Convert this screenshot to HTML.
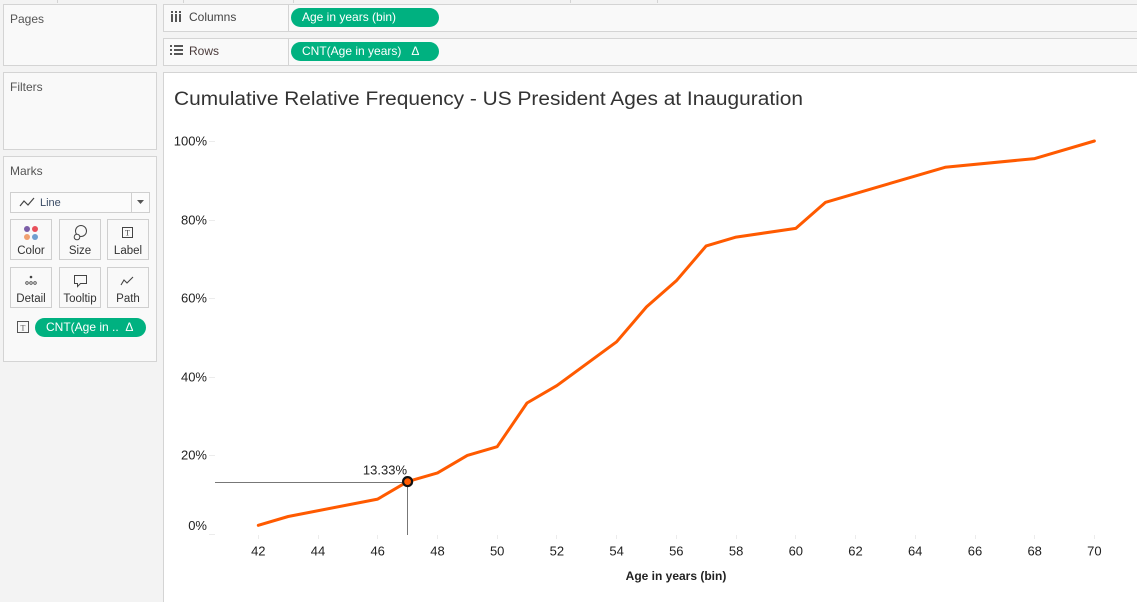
<!DOCTYPE html>
<html><head><meta charset="utf-8"><style>
html,body{margin:0;padding:0;}
body{width:1137px;height:597px;background:#f3f3f3;position:relative;overflow:hidden;font-family:"Liberation Sans",sans-serif;}
.box{position:absolute;background:#f9f9f9;border:1px solid #d4d4d4;box-sizing:border-box;}
.lbl{position:absolute;font-size:12px;color:#555;}
.pill{position:absolute;background:#00b180;color:#fff;border-radius:10px;font-size:12px;box-sizing:border-box;padding-left:11px;line-height:19px;height:19px;}
.btn{position:absolute;background:#f9f9f9;border:1px solid #cfcfcf;box-sizing:border-box;width:42px;height:41px;font-size:11.5px;color:#333;text-align:center;}
.btn span{position:absolute;left:0;right:0;top:25px;}
.tick{position:absolute;top:0;width:1px;height:3px;background:#d4d4d4;}
</style></head><body>
<div class="tick" style="left:57px"></div>
<div class="tick" style="left:183px"></div>
<div class="tick" style="left:293px"></div>
<div class="tick" style="left:570px"></div>
<div class="tick" style="left:657px"></div>

<!-- Pages -->
<div class="box" style="left:3px;top:4px;width:154px;height:62px;"></div>
<div class="lbl" style="left:10px;top:12px;">Pages</div>
<!-- Filters -->
<div class="box" style="left:3px;top:72px;width:154px;height:78px;"></div>
<div class="lbl" style="left:10px;top:80px;">Filters</div>
<!-- Marks -->
<div class="box" style="left:3px;top:156px;width:154px;height:206px;"></div>
<div class="lbl" style="left:10px;top:164px;">Marks</div>
<div style="position:absolute;left:10px;top:192px;width:140px;height:21px;background:#fbfbfb;border:1px solid #cfcfcf;box-sizing:border-box;"></div>
<div style="position:absolute;left:131px;top:193px;width:1px;height:19px;background:#cfcfcf;"></div>
<div style="position:absolute;left:20px;top:197px;font-size:11px;color:#3b4c66;padding-left:20px;">Line</div>
<div class="btn" style="left:10px;top:219px;"><span>Color</span></div>
<div class="btn" style="left:59px;top:219px;"><span>Size</span></div>
<div class="btn" style="left:107px;top:219px;"><span>Label</span></div>
<div class="btn" style="left:10px;top:267px;"><span>Detail</span></div>
<div class="btn" style="left:59px;top:267px;"><span>Tooltip</span></div>
<div class="btn" style="left:107px;top:267px;"><span>Path</span></div>
<svg style="position:absolute;left:0;top:0" width="160" height="360">
  <polyline points="20,206 24,201 28,205 34,198" fill="none" stroke="#444" stroke-width="1.2"/>
  <polygon points="137,200 144,200 140.5,204" fill="#555"/>
  <!-- Color -->
  <circle cx="27" cy="229" r="3" fill="#7b5ea7"/><circle cx="35" cy="229" r="3" fill="#e8505b"/>
  <circle cx="27" cy="237" r="3" fill="#f0a070"/><circle cx="35" cy="237" r="3" fill="#6f9fd0"/>
  <!-- Size -->
  <circle cx="81" cy="231" r="5.5" fill="none" stroke="#444" stroke-width="1"/>
  <circle cx="77" cy="237" r="2.8" fill="#f9f9f9" stroke="#444" stroke-width="1"/>
  <!-- Label -->
  <rect x="122.5" y="227.5" width="10" height="10" fill="none" stroke="#444"/>
  <text x="127.5" y="235.5" font-size="8" text-anchor="middle" fill="#444" font-family="Liberation Serif">T</text>
  <!-- Detail -->
  <circle cx="31" cy="277" r="1.3" fill="#444"/>
  <circle cx="27" cy="283" r="1.3" fill="none" stroke="#444" stroke-width=".8"/>
  <circle cx="31" cy="283" r="1.3" fill="none" stroke="#444" stroke-width=".8"/>
  <circle cx="35" cy="283" r="1.3" fill="none" stroke="#444" stroke-width=".8"/>
  <!-- Tooltip -->
  <path d="M74.5,275.5 h12 v8 h-6 l-3,3 v-3 h-3 z" fill="none" stroke="#444"/>
  <!-- Path -->
  <polyline points="121,285 124,280 127,283 133,277" fill="none" stroke="#444" stroke-width="1.1"/>
  <!-- T pill icon -->
  <rect x="17.5" y="321.5" width="11" height="11" fill="none" stroke="#555"/>
  <text x="23" y="330.5" font-size="8" text-anchor="middle" fill="#555" font-family="Liberation Serif">T</text>
</svg>
<div class="pill" style="left:35px;top:318px;width:111px;">CNT(Age in .. &nbsp;Δ</div>

<!-- Shelves -->
<div class="box" style="left:163px;top:4px;width:990px;height:28px;"></div>
<div style="position:absolute;left:288px;top:5px;width:1px;height:26px;background:#d4d4d4;"></div>
<div class="box" style="left:163px;top:38px;width:990px;height:28px;"></div>
<div style="position:absolute;left:288px;top:39px;width:1px;height:26px;background:#d4d4d4;"></div>
<svg style="position:absolute;left:163px;top:0" width="30" height="66">
  <rect x="8" y="11" width="2" height="2" fill="#555"/><rect x="12" y="11" width="2" height="2" fill="#555"/><rect x="16" y="11" width="2" height="2" fill="#555"/>
  <rect x="8" y="14" width="2" height="8" fill="#555"/><rect x="12" y="14" width="2" height="8" fill="#555"/><rect x="16" y="14" width="2" height="8" fill="#555"/>
  <rect x="7" y="45" width="2" height="2" fill="#555"/><rect x="11" y="45" width="9" height="2" fill="#555"/>
  <rect x="7" y="49" width="2" height="2" fill="#555"/><rect x="11" y="49" width="9" height="2" fill="#555"/>
  <rect x="7" y="53" width="2" height="2" fill="#555"/><rect x="11" y="53" width="9" height="2" fill="#555"/>
</svg>
<div style="position:absolute;left:189px;top:10px;font-size:12px;color:#444;">Columns</div>
<div style="position:absolute;left:189px;top:44px;font-size:12px;color:#4a3a3a;">Rows</div>
<div class="pill" style="left:291px;top:8px;width:148px;">Age in years (bin)</div>
<div class="pill" style="left:291px;top:42px;width:148px;">CNT(Age in years) &nbsp;&nbsp;Δ</div>

<!-- Chart panel -->
<div style="position:absolute;left:163px;top:72px;width:980px;height:530px;background:#fff;border-left:1px solid #d4d4d4;border-top:1px solid #d4d4d4;box-sizing:border-box;"></div>
<svg style="position:absolute;left:0;top:0" width="1137" height="597" font-family="Liberation Sans, sans-serif">
  <text x="174" y="105" font-size="19" fill="#333" textLength="629" lengthAdjust="spacingAndGlyphs">Cumulative Relative Frequency - US President Ages at Inauguration</text>
  <g font-size="13" fill="#222" text-anchor="end">
    <text x="207" y="145.5">100%</text>
    <text x="207" y="224.5">80%</text>
    <text x="207" y="302.5">60%</text>
    <text x="207" y="381.5">40%</text>
    <text x="207" y="459.5">20%</text>
    <text x="207" y="530">0%</text>
  </g>
  <g stroke="#ececec" stroke-width="1">
    <line x1="209" y1="141.5" x2="215" y2="141.5"/>
    <line x1="209" y1="220.5" x2="215" y2="220.5"/>
    <line x1="209" y1="298.5" x2="215" y2="298.5"/>
    <line x1="209" y1="377.5" x2="215" y2="377.5"/>
    <line x1="209" y1="455.5" x2="215" y2="455.5"/>
    <line x1="209" y1="534.5" x2="215" y2="534.5"/>
    <line x1="258.5" y1="535" x2="258.5" y2="539"/>
    <line x1="318.5" y1="535" x2="318.5" y2="539"/>
    <line x1="377.5" y1="535" x2="377.5" y2="539"/>
    <line x1="437.5" y1="535" x2="437.5" y2="539"/>
    <line x1="497.5" y1="535" x2="497.5" y2="539"/>
    <line x1="556.5" y1="535" x2="556.5" y2="539"/>
    <line x1="616.5" y1="535" x2="616.5" y2="539"/>
    <line x1="676.5" y1="535" x2="676.5" y2="539"/>
    <line x1="736.5" y1="535" x2="736.5" y2="539"/>
    <line x1="795.5" y1="535" x2="795.5" y2="539"/>
    <line x1="855.5" y1="535" x2="855.5" y2="539"/>
    <line x1="915.5" y1="535" x2="915.5" y2="539"/>
    <line x1="975.5" y1="535" x2="975.5" y2="539"/>
    <line x1="1034.5" y1="535" x2="1034.5" y2="539"/>
    <line x1="1094.5" y1="535" x2="1094.5" y2="539"/>
  </g>
  <g font-size="13" fill="#222" text-anchor="middle">
    <text x="258.3" y="555.5">42</text>
    <text x="318.0" y="555.5">44</text>
    <text x="377.7" y="555.5">46</text>
    <text x="437.5" y="555.5">48</text>
    <text x="497.2" y="555.5">50</text>
    <text x="556.9" y="555.5">52</text>
    <text x="616.6" y="555.5">54</text>
    <text x="676.3" y="555.5">56</text>
    <text x="736.1" y="555.5">58</text>
    <text x="795.8" y="555.5">60</text>
    <text x="855.5" y="555.5">62</text>
    <text x="915.2" y="555.5">64</text>
    <text x="975.0" y="555.5">66</text>
    <text x="1034.7" y="555.5">68</text>
    <text x="1094.4" y="555.5">70</text>
  </g>
  <text x="676" y="580" font-size="12" font-weight="bold" fill="#222" text-anchor="middle">Age in years (bin)</text>
  <!-- crosshair -->
  <line x1="215" y1="482.5" x2="407" y2="482.5" stroke="#777" stroke-width="1"/>
  <line x1="407.5" y1="482" x2="407.5" y2="535" stroke="#777" stroke-width="1"/>
  <polyline fill="none" stroke="#ff5a00" stroke-width="3" stroke-linejoin="round" stroke-linecap="round"
    points="258.3,525.3 288.2,516.5 377.7,499.1 407.6,481.6 437.5,472.9 467.3,455.4 497.2,446.7 527.0,403.0 556.9,385.6 616.6,341.8 646.5,306.9 676.3,280.8 706.2,245.9 736.1,237.1 795.8,228.4 825.6,202.3 945.1,167.3 1034.7,158.6 1094.4,141"/>
  <circle cx="407.6" cy="481.6" r="4.5" fill="#ff5a00" stroke="#111" stroke-width="2.2"/>
  <text x="407" y="474.5" font-size="13" fill="#222" text-anchor="end">13.33%</text>
</svg>
</body></html>
